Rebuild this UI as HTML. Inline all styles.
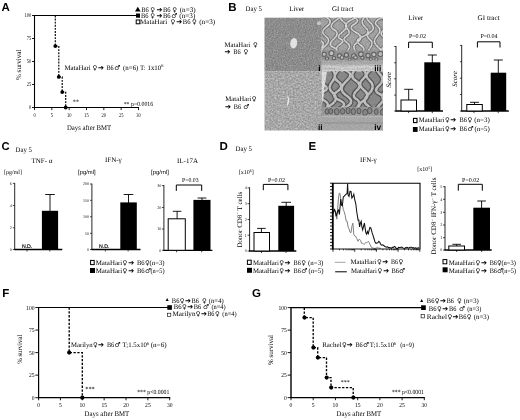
<!DOCTYPE html>
<html><head><meta charset="utf-8"><title>Figure</title>
<style>
html,body{margin:0;padding:0;background:#fff}
svg{display:block}
text{text-rendering:geometricPrecision}
.s{font-family:"Liberation Serif","DejaVu Serif",serif}
.a{font-family:"Liberation Sans","DejaVu Sans",sans-serif}
.y{font-family:"DejaVu Sans",sans-serif}
.w{font-family:"DejaVu Sans",sans-serif}
</style></head><body>
<svg width="520" height="420" viewBox="0 0 520 420">
<rect width="520" height="420" fill="#fff"/>
<text x="1.5" y="10.8" font-size="11.5" class="a" font-weight="bold">A</text>
<line x1="34.5" y1="15.0" x2="34.5" y2="108.1" stroke="#000" stroke-width="1.1"/>
<line x1="33.9" y1="107.5" x2="139.0" y2="107.5" stroke="#000" stroke-width="1.1"/>
<line x1="34.5" y1="15.5" x2="138.5" y2="15.5" stroke="#000" stroke-width="1.1"/>
<line x1="32.0" y1="15.5" x2="34.5" y2="15.5" stroke="#000" stroke-width="0.9"/>
<text x="24.5" y="17.4" font-size="5.8" class="s" textLength="6.8" lengthAdjust="spacingAndGlyphs">100</text>
<line x1="32.0" y1="38.5" x2="34.5" y2="38.5" stroke="#000" stroke-width="0.9"/>
<text x="26.8" y="40.4" font-size="5.8" class="s" textLength="4.5" lengthAdjust="spacingAndGlyphs">75</text>
<line x1="32.0" y1="61.5" x2="34.5" y2="61.5" stroke="#000" stroke-width="0.9"/>
<text x="26.8" y="63.4" font-size="5.8" class="s" textLength="4.5" lengthAdjust="spacingAndGlyphs">50</text>
<line x1="32.0" y1="84.5" x2="34.5" y2="84.5" stroke="#000" stroke-width="0.9"/>
<text x="26.8" y="86.4" font-size="5.8" class="s" textLength="4.5" lengthAdjust="spacingAndGlyphs">25</text>
<line x1="32.0" y1="107.5" x2="34.5" y2="107.5" stroke="#000" stroke-width="0.9"/>
<text x="29.0" y="109.4" font-size="5.8" class="s" textLength="2.3" lengthAdjust="spacingAndGlyphs">0</text>
<line x1="34.5" y1="107.5" x2="34.5" y2="110.1" stroke="#000" stroke-width="0.9"/>
<text x="33.4" y="117" font-size="5.8" class="s" textLength="2.3" lengthAdjust="spacingAndGlyphs">0</text>
<line x1="51.83333333333333" y1="107.5" x2="51.83333333333333" y2="110.1" stroke="#000" stroke-width="0.9"/>
<text x="50.7" y="117" font-size="5.8" class="s" textLength="2.3" lengthAdjust="spacingAndGlyphs">5</text>
<line x1="69.16666666666666" y1="107.5" x2="69.16666666666666" y2="110.1" stroke="#000" stroke-width="0.9"/>
<text x="66.9" y="117" font-size="5.8" class="s" textLength="4.5" lengthAdjust="spacingAndGlyphs">10</text>
<line x1="86.5" y1="107.5" x2="86.5" y2="110.1" stroke="#000" stroke-width="0.9"/>
<text x="84.2" y="117" font-size="5.8" class="s" textLength="4.5" lengthAdjust="spacingAndGlyphs">15</text>
<line x1="103.83333333333333" y1="107.5" x2="103.83333333333333" y2="110.1" stroke="#000" stroke-width="0.9"/>
<text x="101.6" y="117" font-size="5.8" class="s" textLength="4.5" lengthAdjust="spacingAndGlyphs">20</text>
<line x1="121.16666666666667" y1="107.5" x2="121.16666666666667" y2="110.1" stroke="#000" stroke-width="0.9"/>
<text x="118.9" y="117" font-size="5.8" class="s" textLength="4.5" lengthAdjust="spacingAndGlyphs">25</text>
<line x1="138.5" y1="107.5" x2="138.5" y2="110.1" stroke="#000" stroke-width="0.9"/>
<text x="136.2" y="117" font-size="5.8" class="s" textLength="4.5" lengthAdjust="spacingAndGlyphs">30</text>
<path d="M55.3,15.5V46.1H58.8V76.9H62.2V92.1H65.7V107.5" fill="none" stroke="#000" stroke-width="1.15" stroke-dasharray="1.9 1.2"/>
<circle cx="55.3" cy="46.1" r="1.9" fill="#000"/>
<circle cx="58.8" cy="76.9" r="1.9" fill="#000"/>
<circle cx="62.2" cy="92.1" r="1.9" fill="#000"/>
<circle cx="65.7" cy="107.5" r="1.9" fill="#000"/>
<text x="21" y="64.8" font-size="7.2" class="s" text-anchor="middle" transform="rotate(-90 21 64.8)" textLength="30.5" lengthAdjust="spacingAndGlyphs">% survival</text>
<text x="67" y="129.6" font-size="7.2" class="s" textLength="44.2" lengthAdjust="spacingAndGlyphs">Days after BMT</text>
<text x="72.4" y="103.6" font-size="6.8" class="s">**</text>
<text x="123.7" y="105.6" font-size="6.3" class="s" textLength="29.5" lengthAdjust="spacingAndGlyphs">** p=0.0016</text>
<g font-size="6.9" class="s"><text x="64.4" y="69.6" textLength="26.2" lengthAdjust="spacingAndGlyphs">MataHari</text><text x="92.5" y="69.6" class="y" font-size="6.5">♀</text><text x="98" y="69.6" class="w" font-size="7.2">➔</text><text x="106.5" y="69.6" textLength="7.2" lengthAdjust="spacingAndGlyphs">B6</text><text x="114.2" y="69.6" class="y" font-size="6.8">♂</text><text x="123" y="69.6">(n=6) T: 1x10<tspan font-size="4.3" dy="-2.4">6</tspan></text></g>
<path d="M135,11.6L137.8,6.8L140.6,11.6Z" fill="#000" stroke="none" stroke-width="1"/>
<rect x="136" y="13.5" width="4" height="4.2" fill="#000"/>
<rect x="136.2" y="20" width="3.6" height="3.8" fill="#fff" stroke="#000" stroke-width="1"/>
<g font-size="7" class="s"><text x="141.2" y="12.3" textLength="7.5" lengthAdjust="spacingAndGlyphs">B6</text><text x="150.2" y="12.3" class="y" font-size="6.5">♀</text><text x="156.6" y="12.3" class="w" font-size="7.2">➔</text><text x="162.9" y="12.3" textLength="7.6" lengthAdjust="spacingAndGlyphs">B6</text><text x="172.2" y="12.3" class="y" font-size="6.5">♀</text><text x="179.7" y="12.3" textLength="16" lengthAdjust="spacingAndGlyphs">(n=3)</text></g>
<g font-size="7" class="s"><text x="140.9" y="18.2" textLength="7.5" lengthAdjust="spacingAndGlyphs">B6</text><text x="150.2" y="18.2" class="y" font-size="6.5">♀</text><text x="156.6" y="18.2" class="w" font-size="7.2">➔</text><text x="162.9" y="18.2" textLength="7.6" lengthAdjust="spacingAndGlyphs">B6</text><text x="171.2" y="18.2" class="y" font-size="6.8">♂</text><text x="179.3" y="18.2" textLength="16" lengthAdjust="spacingAndGlyphs">(n=3)</text></g>
<g font-size="7" class="s"><text x="140" y="24.1" textLength="27.2" lengthAdjust="spacingAndGlyphs">MataHari</text><text x="170.5" y="24.1" class="y" font-size="6.5">♀</text><text x="176.2" y="24.1" class="w" font-size="7.2">➔</text><text x="182.8" y="24.1" textLength="7.7" lengthAdjust="spacingAndGlyphs">B6</text><text x="192.1" y="24.1" class="y" font-size="6.5">♀</text><text x="199.2" y="24.1" textLength="16" lengthAdjust="spacingAndGlyphs">(n=3)</text></g>
<text x="228.3" y="10.9" font-size="11.5" class="a" font-weight="bold">B</text>
<text x="245.6" y="10.6" font-size="7" class="s" textLength="16.4" lengthAdjust="spacingAndGlyphs">Day 5</text>
<text x="289.2" y="10.8" font-size="7" class="s" textLength="15" lengthAdjust="spacingAndGlyphs">Liver</text>
<text x="332" y="10.8" font-size="7" class="s" textLength="21.4" lengthAdjust="spacingAndGlyphs">GI tract</text>
<g font-size="6.8" class="s"><text x="224.6" y="46.7" textLength="25.7" lengthAdjust="spacingAndGlyphs">MataHari</text><text x="253" y="46.7" class="y" font-size="6.5">♀</text></g>
<g font-size="6.8" class="s"><text x="224.4" y="54.3" class="w" font-size="7.2">➔</text><text x="233.2" y="54.3" textLength="7.4" lengthAdjust="spacingAndGlyphs">B6</text><text x="243.4" y="54.3" class="y" font-size="6.5">♀</text></g>
<g font-size="6.8" class="s"><text x="225.3" y="101.1" textLength="26" lengthAdjust="spacingAndGlyphs">MataHari</text><text x="251.7" y="101.1" class="y" font-size="6.5">♀</text></g>
<g font-size="6.8" class="s"><text x="225.1" y="108.9" class="w" font-size="7.2">➔</text><text x="233.8" y="108.9" textLength="7.3" lengthAdjust="spacingAndGlyphs">B6</text><text x="243.3" y="108.9" class="y" font-size="6.8">♂</text></g>
<defs>
<filter id="n1" x="0" y="0" width="100%" height="100%" color-interpolation-filters="sRGB"><feTurbulence type="fractalNoise" baseFrequency="0.75" numOctaves="2" seed="3"/><feColorMatrix type="matrix" values="0.28 0 0 0 0.41  0.28 0 0 0 0.41  0.28 0 0 0 0.41  0 0 0 0 1"/><feComposite in2="SourceGraphic" operator="in"/></filter>
<filter id="n2" x="0" y="0" width="100%" height="100%" color-interpolation-filters="sRGB"><feTurbulence type="fractalNoise" baseFrequency="0.6" numOctaves="2" seed="11"/><feColorMatrix type="matrix" values="0.36 0 0 0 0.475  0.36 0 0 0 0.475  0.36 0 0 0 0.475  0 0 0 0 1"/><feComposite in2="SourceGraphic" operator="in"/></filter>
<filter id="n3" x="0" y="0" width="100%" height="100%" color-interpolation-filters="sRGB"><feTurbulence type="fractalNoise" baseFrequency="0.7" numOctaves="2" seed="5"/><feColorMatrix type="matrix" values="0 0 0 0 0.3  0 0 0 0 0.3  0 0 0 0 0.3  1.6 0 0 0 -0.55"/><feComposite in2="SourceGraphic" operator="in"/></filter>
<filter id="bl" x="-5%" y="-5%" width="110%" height="110%"><feGaussianBlur stdDeviation="0.45"/></filter>
<clipPath id="c3"><rect x="321.5" y="17.5" width="61.5" height="53.7"/></clipPath>
<clipPath id="c4"><rect x="321.5" y="71.2" width="61.5" height="59.3"/></clipPath>
</defs>
<rect x="264.5" y="17.7" width="57.3" height="53.6" fill="#999" filter="url(#n1)"/>
<ellipse cx="293.7" cy="43.2" rx="3.8" ry="5.6" fill="#e2e2e2" stroke="#858585" stroke-width="0.6" transform="rotate(8 293.7 43.2)"/>
<circle cx="319" cy="23.3" r="2" fill="#c6c6c6"/>
<rect x="264.5" y="71.2" width="58" height="59.3" fill="#aaa" filter="url(#n2)"/>
<path d="M287.5,96.5l1.2,2.5l-0.6,3.5l-0.8,3" stroke="#e8e8e8" stroke-width="1.3" fill="none"/>
<g clip-path="url(#c3)">
<rect x="321.5" y="17.5" width="61.5" height="53.7" fill="#a8a8a8"/>
<g filter="url(#bl)">
<path d="M324.2,15.9Q311.7,20.2 317.5,24.5Q323.2,28.8 318.2,32.3Q313.2,35.8 320.3,40.3Q327.4,44.9 318.1,49.5Q308.7,54.1 316.0,56.8M331.6,7.4Q318.3,13.0 326.1,17.1Q334.0,21.3 326.6,26.7Q319.3,32.0 325.6,36.2Q331.9,40.3 324.9,46.3Q317.8,52.2 325.5,54.0Q333.2,55.8 327.7,61.2M342.1,16.1Q326.2,25.6 333.4,29.2Q340.6,32.8 333.8,39.0Q327.0,45.2 333.6,47.4Q340.2,49.6 334.0,53.9M345.3,6.4Q336.2,17.1 343.2,21.6Q350.2,26.1 342.9,31.6Q335.6,37.0 340.5,39.0Q345.5,41.1 339.3,44.9Q333.1,48.6 340.1,54.6Q347.2,60.6 340.7,64.7M357.7,16.8Q341.7,23.5 346.8,28.2Q351.8,33.0 346.6,36.1Q341.3,39.2 347.0,42.8Q352.6,46.3 346.3,51.8Q340.1,57.3 346.8,62.4M362.1,5.1Q349.0,14.9 354.9,17.9Q360.7,20.8 354.1,24.3Q347.5,27.8 356.1,32.5Q364.7,37.2 357.8,41.8Q351.0,46.3 355.9,51.7Q360.9,57.1 354.1,62.4M368.2,14.7Q358.0,20.8 365.0,26.8Q372.0,32.9 362.6,36.7Q353.3,40.6 360.4,45.0Q367.4,49.5 360.8,54.7M375.1,8.4Q361.9,15.2 369.3,21.7Q376.7,28.1 370.7,31.7Q364.7,35.2 369.5,39.1Q374.3,43.0 370.0,48.1Q365.8,53.1 371.0,56.0Q376.2,58.9 368.6,62.9M384.6,16.6Q371.5,21.5 377.1,25.7Q382.8,30.0 377.0,36.0Q371.3,42.0 378.0,47.0Q384.7,51.9 377.1,56.1Q369.5,60.3 375.8,63.3M392.9,6.1Q378.1,13.8 383.9,19.5Q389.8,25.2 383.9,29.8Q378.1,34.3 385.1,37.6Q392.1,41.0 385.2,45.6Q378.2,50.2 385.8,56.3Q393.4,62.4 385.9,65.9" fill="none" stroke="#757575" stroke-width="3.4" stroke-linejoin="round"/>
<path d="M324.2,15.9Q311.7,20.2 317.5,24.5Q323.2,28.8 318.2,32.3Q313.2,35.8 320.3,40.3Q327.4,44.9 318.1,49.5Q308.7,54.1 316.0,56.8M331.6,7.4Q318.3,13.0 326.1,17.1Q334.0,21.3 326.6,26.7Q319.3,32.0 325.6,36.2Q331.9,40.3 324.9,46.3Q317.8,52.2 325.5,54.0Q333.2,55.8 327.7,61.2M342.1,16.1Q326.2,25.6 333.4,29.2Q340.6,32.8 333.8,39.0Q327.0,45.2 333.6,47.4Q340.2,49.6 334.0,53.9M345.3,6.4Q336.2,17.1 343.2,21.6Q350.2,26.1 342.9,31.6Q335.6,37.0 340.5,39.0Q345.5,41.1 339.3,44.9Q333.1,48.6 340.1,54.6Q347.2,60.6 340.7,64.7M357.7,16.8Q341.7,23.5 346.8,28.2Q351.8,33.0 346.6,36.1Q341.3,39.2 347.0,42.8Q352.6,46.3 346.3,51.8Q340.1,57.3 346.8,62.4M362.1,5.1Q349.0,14.9 354.9,17.9Q360.7,20.8 354.1,24.3Q347.5,27.8 356.1,32.5Q364.7,37.2 357.8,41.8Q351.0,46.3 355.9,51.7Q360.9,57.1 354.1,62.4M368.2,14.7Q358.0,20.8 365.0,26.8Q372.0,32.9 362.6,36.7Q353.3,40.6 360.4,45.0Q367.4,49.5 360.8,54.7M375.1,8.4Q361.9,15.2 369.3,21.7Q376.7,28.1 370.7,31.7Q364.7,35.2 369.5,39.1Q374.3,43.0 370.0,48.1Q365.8,53.1 371.0,56.0Q376.2,58.9 368.6,62.9M384.6,16.6Q371.5,21.5 377.1,25.7Q382.8,30.0 377.0,36.0Q371.3,42.0 378.0,47.0Q384.7,51.9 377.1,56.1Q369.5,60.3 375.8,63.3M392.9,6.1Q378.1,13.8 383.9,19.5Q389.8,25.2 383.9,29.8Q378.1,34.3 385.1,37.6Q392.1,41.0 385.2,45.6Q378.2,50.2 385.8,56.3Q393.4,62.4 385.9,65.9" fill="none" stroke="#dcdcdc" stroke-width="1.6" stroke-linejoin="round"/>
<rect x="321.5" y="50.5" width="61.5" height="10" fill="#9a9a9a"/>
<g fill="#c6c6c6" stroke="#626262" stroke-width="1.1">
<circle cx="324.2" cy="54.3" r="2.1"/>
<circle cx="331.5" cy="53.2" r="2.5"/>
<circle cx="339.6" cy="55.7" r="2.1"/>
<circle cx="346.4" cy="55.0" r="2.1"/>
<circle cx="353.8" cy="55.9" r="2.2"/>
<circle cx="360.9" cy="54.2" r="2.3"/>
<circle cx="368.0" cy="55.5" r="2.1"/>
<circle cx="373.9" cy="54.5" r="2.2"/>
<circle cx="380.4" cy="54.0" r="2.5"/>
<circle cx="327.0" cy="58.6" r="1.6"/>
<circle cx="334.0" cy="58.2" r="1.7"/>
<circle cx="342.0" cy="57.6" r="1.9"/>
<circle cx="349.6" cy="59.4" r="1.4"/>
<circle cx="355.5" cy="57.6" r="1.8"/>
<circle cx="362.5" cy="57.8" r="1.6"/>
<circle cx="370.8" cy="59.1" r="1.5"/>
<circle cx="376.3" cy="59.3" r="1.6"/>
</g>
<rect x="321.5" y="60.5" width="61.5" height="4.5" fill="#b0b0b0"/>
<rect x="321.5" y="64.5" width="61.5" height="7" fill="#c4c4c4"/>
<path d="M321.5,66q8,-1.2 15,0t15,0.3t15,-0.5t17,0.5v2q-9,1 -17,0t-15,0.6t-15,-0.4t-15,0.3z" fill="#d6d6d6"/>
<rect x="321.5" y="69.6" width="61.5" height="1.8" fill="#d8d8d8"/>
</g>
<rect x="321.5" y="17.5" width="61.5" height="53.7" fill="#000" filter="url(#n3)" opacity="0.3"/>
</g>
<g clip-path="url(#c4)">
<rect x="321.5" y="71.2" width="61.5" height="59.3" fill="#8c8c8c"/>
<g filter="url(#bl)">
<path d="M330.5,62.4Q314.9,78.5 323.0,83.9Q331.0,89.2 322.2,92.0Q313.4,94.8 322.8,99.6Q332.2,104.5 324.2,109.9Q316.1,115.3 322.1,119.7M337.1,52.5Q325.6,61.4 331.7,68.4Q337.8,75.5 332.2,81.8Q326.6,88.0 333.3,93.5Q339.9,98.9 330.1,105.5Q320.3,112.1 329.6,116.6Q338.8,121.2 331.7,126.3M343.2,66.5Q329.9,75.8 337.5,81.0Q345.1,86.3 337.5,91.2Q330.0,96.1 339.2,100.1Q348.4,104.2 340.2,108.5Q332.0,112.9 338.5,116.7Q344.9,120.6 337.9,124.1M352.8,54.4Q339.0,68.0 346.7,71.0Q354.3,74.1 345.8,81.7Q337.3,89.4 346.4,95.6Q355.4,101.8 347.3,106.2Q339.2,110.5 347.7,116.7M362.4,62.3Q347.0,75.0 355.0,80.0Q363.0,85.0 356.9,90.4Q350.8,95.8 356.7,99.3Q362.6,102.8 355.1,109.2Q347.5,115.6 354.2,123.3M369.2,55.2Q354.8,63.9 362.0,68.8Q369.1,73.7 362.9,79.1Q356.8,84.4 364.1,90.2Q371.4,95.9 363.3,100.8Q355.2,105.6 362.3,114.0Q369.4,122.4 362.8,126.5M375.7,67.0Q361.6,73.8 369.1,80.2Q376.5,86.6 368.8,93.9Q361.2,101.2 367.5,105.3Q373.8,109.5 368.5,114.2Q363.2,118.9 370.8,124.8M384.6,55.3Q371.8,66.3 378.8,72.9Q385.8,79.6 379.2,85.3Q372.5,91.0 380.0,94.2Q387.5,97.4 379.9,104.5Q372.4,111.6 380.1,117.7M394.4,62.4Q379.8,77.2 385.9,80.5Q392.1,83.9 385.6,90.6Q379.2,97.4 385.9,102.8Q392.6,108.1 385.6,113.2Q378.6,118.2 387.2,122.8" fill="none" stroke="#555" stroke-width="4.8" stroke-linejoin="round"/>
<path d="M330.5,62.4Q314.9,78.5 323.0,83.9Q331.0,89.2 322.2,92.0Q313.4,94.8 322.8,99.6Q332.2,104.5 324.2,109.9Q316.1,115.3 322.1,119.7M337.1,52.5Q325.6,61.4 331.7,68.4Q337.8,75.5 332.2,81.8Q326.6,88.0 333.3,93.5Q339.9,98.9 330.1,105.5Q320.3,112.1 329.6,116.6Q338.8,121.2 331.7,126.3M343.2,66.5Q329.9,75.8 337.5,81.0Q345.1,86.3 337.5,91.2Q330.0,96.1 339.2,100.1Q348.4,104.2 340.2,108.5Q332.0,112.9 338.5,116.7Q344.9,120.6 337.9,124.1M352.8,54.4Q339.0,68.0 346.7,71.0Q354.3,74.1 345.8,81.7Q337.3,89.4 346.4,95.6Q355.4,101.8 347.3,106.2Q339.2,110.5 347.7,116.7M362.4,62.3Q347.0,75.0 355.0,80.0Q363.0,85.0 356.9,90.4Q350.8,95.8 356.7,99.3Q362.6,102.8 355.1,109.2Q347.5,115.6 354.2,123.3M369.2,55.2Q354.8,63.9 362.0,68.8Q369.1,73.7 362.9,79.1Q356.8,84.4 364.1,90.2Q371.4,95.9 363.3,100.8Q355.2,105.6 362.3,114.0Q369.4,122.4 362.8,126.5M375.7,67.0Q361.6,73.8 369.1,80.2Q376.5,86.6 368.8,93.9Q361.2,101.2 367.5,105.3Q373.8,109.5 368.5,114.2Q363.2,118.9 370.8,124.8M384.6,55.3Q371.8,66.3 378.8,72.9Q385.8,79.6 379.2,85.3Q372.5,91.0 380.0,94.2Q387.5,97.4 379.9,104.5Q372.4,111.6 380.1,117.7M394.4,62.4Q379.8,77.2 385.9,80.5Q392.1,83.9 385.6,90.6Q379.2,97.4 385.9,102.8Q392.6,108.1 385.6,113.2Q378.6,118.2 387.2,122.8" fill="none" stroke="#c6c6c6" stroke-width="2.4" stroke-linejoin="round"/>
<rect x="321.5" y="107" width="61.5" height="9" fill="#9c9c9c"/>
<g fill="#8a8a8a" stroke="#5a5a5a" stroke-width="1">
<ellipse cx="327.0" cy="111.4" rx="1.9" ry="2.6"/>
<ellipse cx="330.8" cy="111.2" rx="1.9" ry="2.7"/>
<ellipse cx="336.7" cy="111.6" rx="2.4" ry="3.0"/>
<ellipse cx="342.6" cy="111.3" rx="2.2" ry="2.8"/>
<ellipse cx="348.1" cy="110.6" rx="2.0" ry="3.2"/>
<ellipse cx="353.3" cy="111.5" rx="2.2" ry="3.1"/>
<ellipse cx="359.0" cy="111.0" rx="2.0" ry="2.8"/>
<ellipse cx="365.1" cy="112.4" rx="2.4" ry="3.1"/>
<ellipse cx="369.8" cy="110.6" rx="2.3" ry="3.1"/>
<ellipse cx="376.3" cy="111.7" rx="1.8" ry="2.8"/>
<ellipse cx="382.9" cy="112.2" rx="2.4" ry="3.2"/>
</g>
<rect x="321.5" y="116" width="61.5" height="15" fill="#adadad"/>
<rect x="321.5" y="115.6" width="61.5" height="1.5" fill="#bdbdbd"/>
<rect x="321.5" y="122" width="61.5" height="2" fill="#a0a0a0"/>
<path d="M321.5,71.2h5.5l-2.2,14l-1.5,14l-1.8,6z" fill="#e4e4e4"/>
</g>
<rect x="321.5" y="71.2" width="61.5" height="59.3" fill="#000" filter="url(#n3)" opacity="0.25"/>
</g>
<text x="318.2" y="70.6" font-size="8.4" class="a" font-weight="bold">i</text>
<text x="374.3" y="70.6" font-size="8.4" class="a" font-weight="bold">iii</text>
<text x="318" y="130.2" font-size="8.4" class="a" font-weight="bold">ii</text>
<text x="374.2" y="130.2" font-size="8.4" class="a" font-weight="bold">iv</text>
<text x="408.2" y="19.9" font-size="7" class="s" textLength="15" lengthAdjust="spacingAndGlyphs">Liver</text>
<text x="417.5" y="38" font-size="6" class="s" text-anchor="middle">P=0.02</text>
<path d="M408.6,48V42.2H432.3V48" fill="none" stroke="#000" stroke-width="1"/>
<line x1="396" y1="46" x2="396" y2="111.5" stroke="#000" stroke-width="0.85"/>
<line x1="395.6" y1="111" x2="443" y2="111" stroke="#000" stroke-width="1.3"/>
<line x1="394.2" y1="46.5" x2="396" y2="46.5" stroke="#000" stroke-width="0.7"/>
<line x1="394.2" y1="62.8" x2="396" y2="62.8" stroke="#000" stroke-width="0.7"/>
<line x1="394.2" y1="78.8" x2="396" y2="78.8" stroke="#000" stroke-width="0.7"/>
<line x1="394.2" y1="95.1" x2="396" y2="95.1" stroke="#000" stroke-width="0.7"/>
<line x1="394.2" y1="111" x2="396" y2="111" stroke="#000" stroke-width="0.7"/>
<line x1="408.7" y1="89.3" x2="408.7" y2="100" stroke="#000" stroke-width="0.9"/>
<line x1="404.2" y1="89.3" x2="413.2" y2="89.3" stroke="#000" stroke-width="0.9"/>
<rect x="401" y="100" width="15.5" height="11" fill="#fff" stroke="#000" stroke-width="1"/>
<line x1="432.3" y1="55" x2="432.3" y2="63" stroke="#000" stroke-width="0.9"/>
<line x1="427.8" y1="55" x2="436.8" y2="55" stroke="#000" stroke-width="0.9"/>
<rect x="424.3" y="62.3" width="16" height="48.7" fill="#000"/>
<text x="391" y="79.6" font-size="6.8" class="s" text-anchor="middle" transform="rotate(-90 391 79.6)" textLength="15.7" lengthAdjust="spacingAndGlyphs" font-style="italic">Score</text>
<text x="477.5" y="19.9" font-size="7" class="s" textLength="22.2" lengthAdjust="spacingAndGlyphs">GI tract</text>
<text x="489" y="38" font-size="6" class="s" text-anchor="middle">P=0.04</text>
<path d="M477.4,47.5V41.8H500V47.5" fill="none" stroke="#000" stroke-width="1"/>
<line x1="461.7" y1="45" x2="461.7" y2="111.5" stroke="#000" stroke-width="0.85"/>
<line x1="461.3" y1="111" x2="508.8" y2="111" stroke="#000" stroke-width="1.3"/>
<line x1="459.9" y1="45.4" x2="461.7" y2="45.4" stroke="#000" stroke-width="0.7"/>
<line x1="459.9" y1="61.7" x2="461.7" y2="61.7" stroke="#000" stroke-width="0.7"/>
<line x1="459.9" y1="78.2" x2="461.7" y2="78.2" stroke="#000" stroke-width="0.7"/>
<line x1="459.9" y1="94.5" x2="461.7" y2="94.5" stroke="#000" stroke-width="0.7"/>
<line x1="459.9" y1="111" x2="461.7" y2="111" stroke="#000" stroke-width="0.7"/>
<line x1="474.5" y1="102.3" x2="474.5" y2="104.5" stroke="#000" stroke-width="0.9"/>
<line x1="470.0" y1="102.3" x2="479.0" y2="102.3" stroke="#000" stroke-width="0.9"/>
<rect x="466.8" y="104.5" width="15.5" height="6.5" fill="#fff" stroke="#000" stroke-width="1"/>
<line x1="498.3" y1="60" x2="498.3" y2="73" stroke="#000" stroke-width="0.9"/>
<line x1="493.8" y1="60" x2="502.8" y2="60" stroke="#000" stroke-width="0.9"/>
<rect x="490.7" y="72.7" width="15.5" height="38.3" fill="#000"/>
<text x="456.6" y="79" font-size="6.8" class="s" text-anchor="middle" transform="rotate(-90 456.6 79)" textLength="15.4" lengthAdjust="spacingAndGlyphs" font-style="italic">Score</text>
<rect x="413.5" y="118.4" width="3.5" height="4.2" fill="#fff" stroke="#000" stroke-width="1.1"/>
<rect x="412.9" y="127" width="4.7" height="4.9" fill="#000"/>
<g font-size="6.8" class="s"><text x="418.8" y="122" textLength="25.6" lengthAdjust="spacingAndGlyphs">MataHari</text><text x="445" y="122" class="y" font-size="6.5">♀</text><text x="450.2" y="122" class="w" font-size="7.2">➔</text><text x="459.5" y="122" textLength="7.4" lengthAdjust="spacingAndGlyphs">B6</text><text x="467.5" y="122" class="y" font-size="6.5">♀</text><text x="474.2" y="122" textLength="15.6" lengthAdjust="spacingAndGlyphs">(n=3)</text></g>
<g font-size="6.8" class="s"><text x="418.8" y="131" textLength="25.6" lengthAdjust="spacingAndGlyphs">MataHari</text><text x="445" y="131" class="y" font-size="6.5">♀</text><text x="450.2" y="131" class="w" font-size="7.2">➔</text><text x="459.5" y="131" textLength="7.4" lengthAdjust="spacingAndGlyphs">B6</text><text x="467.4" y="131" class="y" font-size="6.8">♂</text><text x="474.6" y="131" textLength="15.2" lengthAdjust="spacingAndGlyphs">(n=5)</text></g>
<text x="1.5" y="150.4" font-size="11.3" class="a" font-weight="bold">C</text>
<text x="15.6" y="151.7" font-size="7" class="s" textLength="16.3" lengthAdjust="spacingAndGlyphs">Day 5</text>
<text x="42" y="163" font-size="7" class="s" text-anchor="middle">TNF- α</text>
<text x="113.3" y="162" font-size="7" class="s" text-anchor="middle">IFN-γ</text>
<text x="187.5" y="162.6" font-size="7" class="s" text-anchor="middle">IL-17A</text>
<text x="4.1" y="174" font-size="6" class="s" textLength="17.8" lengthAdjust="spacingAndGlyphs">[pg/ml]</text>
<text x="78.1" y="174.4" font-size="5.8" class="a" textLength="17.5" lengthAdjust="spacingAndGlyphs">[pg/ml]</text>
<text x="151.1" y="174.2" font-size="5.8" class="a" textLength="17.8" lengthAdjust="spacingAndGlyphs">[pg/ml]</text>
<line x1="14.7" y1="183" x2="14.7" y2="250" stroke="#000" stroke-width="0.85"/>
<line x1="14.3" y1="249.5" x2="62.3" y2="249.5" stroke="#000" stroke-width="1.3"/>
<line x1="12.8" y1="183.3" x2="14.7" y2="183.3" stroke="#000" stroke-width="0.7"/>
<line x1="12.8" y1="205.5" x2="14.7" y2="205.5" stroke="#000" stroke-width="0.7"/>
<line x1="12.8" y1="227.8" x2="14.7" y2="227.8" stroke="#000" stroke-width="0.7"/>
<line x1="12.8" y1="249.5" x2="14.7" y2="249.5" stroke="#000" stroke-width="0.7"/>
<line x1="27" y1="249.5" x2="27" y2="251.5" stroke="#000" stroke-width="0.7"/>
<line x1="49.8" y1="249.5" x2="49.8" y2="251.5" stroke="#000" stroke-width="0.7"/>
<line x1="408.6" y1="111" x2="408.6" y2="113.2" stroke="#000" stroke-width="0.7"/>
<line x1="432.3" y1="111" x2="432.3" y2="113.2" stroke="#000" stroke-width="0.7"/>
<line x1="474" y1="111" x2="474" y2="113.2" stroke="#000" stroke-width="0.7"/>
<line x1="498.2" y1="111" x2="498.2" y2="113.2" stroke="#000" stroke-width="0.7"/>
<line x1="50" y1="194.5" x2="50" y2="211" stroke="#000" stroke-width="0.9"/>
<line x1="45.2" y1="194.5" x2="54.8" y2="194.5" stroke="#000" stroke-width="0.9"/>
<rect x="41.9" y="210.8" width="16.2" height="38.7" fill="#000"/>
<text x="21.9" y="247.5" font-size="5.2" class="a" stroke="#000" stroke-width="0.15">N.D.</text>
<text x="11.8" y="184.60000000000002" font-size="4" class="s" text-anchor="end">6</text>
<text x="11.8" y="206.8" font-size="4" class="s" text-anchor="end">4</text>
<text x="11.8" y="229.10000000000002" font-size="4" class="s" text-anchor="end">2</text>
<text x="11.8" y="250.8" font-size="4" class="s" text-anchor="end">0</text>
<line x1="91.9" y1="183.7" x2="91.9" y2="250" stroke="#000" stroke-width="0.85"/>
<line x1="91.5" y1="249.5" x2="140.5" y2="249.5" stroke="#000" stroke-width="1.3"/>
<line x1="90" y1="184" x2="91.9" y2="184" stroke="#000" stroke-width="0.7"/>
<line x1="90" y1="200.3" x2="91.9" y2="200.3" stroke="#000" stroke-width="0.7"/>
<line x1="90" y1="216.8" x2="91.9" y2="216.8" stroke="#000" stroke-width="0.7"/>
<line x1="90" y1="233.3" x2="91.9" y2="233.3" stroke="#000" stroke-width="0.7"/>
<line x1="90" y1="249.5" x2="91.9" y2="249.5" stroke="#000" stroke-width="0.7"/>
<line x1="105.4" y1="249.5" x2="105.4" y2="251.5" stroke="#000" stroke-width="0.7"/>
<line x1="128.1" y1="249.5" x2="128.1" y2="251.5" stroke="#000" stroke-width="0.7"/>
<line x1="128.5" y1="194.5" x2="128.5" y2="203" stroke="#000" stroke-width="0.9"/>
<line x1="123.7" y1="194.5" x2="133.3" y2="194.5" stroke="#000" stroke-width="0.9"/>
<rect x="120.3" y="202.4" width="16.5" height="47.1" fill="#000"/>
<text x="99" y="247.5" font-size="5.2" class="a" stroke="#000" stroke-width="0.15">N.D.</text>
<text x="89" y="185.3" font-size="4" class="s" text-anchor="end">200</text>
<text x="89" y="201.60000000000002" font-size="4" class="s" text-anchor="end">150</text>
<text x="89" y="218.10000000000002" font-size="4" class="s" text-anchor="end">100</text>
<text x="89" y="234.60000000000002" font-size="4" class="s" text-anchor="end">50</text>
<text x="89" y="250.8" font-size="4" class="s" text-anchor="end">0</text>
<line x1="163.9" y1="185.1" x2="163.9" y2="250.8" stroke="#000" stroke-width="0.85"/>
<line x1="163.5" y1="250.3" x2="212.4" y2="250.3" stroke="#000" stroke-width="1.3"/>
<line x1="161.9" y1="185.6" x2="163.9" y2="185.6" stroke="#000" stroke-width="0.7"/>
<line x1="161.9" y1="207.5" x2="163.9" y2="207.5" stroke="#000" stroke-width="0.7"/>
<line x1="161.9" y1="229" x2="163.9" y2="229" stroke="#000" stroke-width="0.7"/>
<line x1="161.9" y1="250.3" x2="163.9" y2="250.3" stroke="#000" stroke-width="0.7"/>
<line x1="176.6" y1="250.3" x2="176.6" y2="252.3" stroke="#000" stroke-width="0.7"/>
<line x1="201.7" y1="250.3" x2="201.7" y2="252.3" stroke="#000" stroke-width="0.7"/>
<line x1="177.1" y1="211.3" x2="177.1" y2="219" stroke="#000" stroke-width="0.9"/>
<line x1="172.79999999999998" y1="211.3" x2="181.4" y2="211.3" stroke="#000" stroke-width="0.9"/>
<rect x="168.2" y="218.8" width="17.1" height="31.5" fill="#fff" stroke="#000" stroke-width="1"/>
<line x1="202" y1="198" x2="202" y2="201" stroke="#000" stroke-width="0.9"/>
<line x1="197.6" y1="198" x2="206.4" y2="198" stroke="#000" stroke-width="0.9"/>
<rect x="193.4" y="199.9" width="17.1" height="50.4" fill="#000"/>
<path d="M176.3,190.9V185H201.7V190.9" fill="none" stroke="#000" stroke-width="1"/>
<text x="190.3" y="182.3" font-size="6" class="s" text-anchor="middle" textLength="16.5" lengthAdjust="spacingAndGlyphs">P=0.03</text>
<text x="161.2" y="186.9" font-size="4" class="s" text-anchor="end">30</text>
<text x="161.2" y="208.8" font-size="4" class="s" text-anchor="end">20</text>
<text x="161.2" y="230.3" font-size="4" class="s" text-anchor="end">10</text>
<text x="161.2" y="251.60000000000002" font-size="4" class="s" text-anchor="end">0</text>
<rect x="90.6" y="260.4" width="3.6" height="4.2" fill="#fff" stroke="#000" stroke-width="1"/>
<rect x="90" y="268" width="5" height="5" fill="#000"/>
<g font-size="6.8" class="s"><text x="95.7" y="264.9" textLength="26.5" lengthAdjust="spacingAndGlyphs">MataHari</text><text x="122.6" y="264.9" class="y" font-size="6.5">♀</text><text x="128.2" y="264.9" class="w" font-size="7.2">➔</text><text x="136.9" y="264.9" textLength="7.8" lengthAdjust="spacingAndGlyphs">B6</text><text x="145.1" y="264.9" class="y" font-size="6.5">♀</text><text x="149.5" y="264.9" textLength="15.1" lengthAdjust="spacingAndGlyphs">(n=3)</text></g>
<g font-size="6.8" class="s"><text x="95.7" y="272.9" textLength="26.5" lengthAdjust="spacingAndGlyphs">MataHari</text><text x="122.6" y="272.9" class="y" font-size="6.5">♀</text><text x="128.2" y="272.9" class="w" font-size="7.2">➔</text><text x="136.9" y="272.9" textLength="7.8" lengthAdjust="spacingAndGlyphs">B6</text><text x="145" y="272.9" class="y" font-size="6.8">♂</text><text x="150.4" y="272.9" textLength="14.2" lengthAdjust="spacingAndGlyphs">(n=5)</text></g>
<text x="219.4" y="150.4" font-size="11.5" class="a" font-weight="bold">D</text>
<text x="235.5" y="151.2" font-size="7" class="s" textLength="16.4" lengthAdjust="spacingAndGlyphs">Day 5</text>
<text x="238.7" y="174" font-size="6.1" class="s">[x10<tspan font-size="4" dy="-2.2">6</tspan><tspan dy="2.2">]</tspan></text>
<line x1="249.6" y1="187.4" x2="249.6" y2="251.5" stroke="#000" stroke-width="0.85"/>
<line x1="249.2" y1="251" x2="296.3" y2="251" stroke="#000" stroke-width="1.3"/>
<line x1="247.6" y1="187.9" x2="249.6" y2="187.9" stroke="#000" stroke-width="0.7"/>
<line x1="247.6" y1="203.7" x2="249.6" y2="203.7" stroke="#000" stroke-width="0.7"/>
<line x1="247.6" y1="219.5" x2="249.6" y2="219.5" stroke="#000" stroke-width="0.7"/>
<line x1="247.6" y1="235.2" x2="249.6" y2="235.2" stroke="#000" stroke-width="0.7"/>
<line x1="247.6" y1="251" x2="249.6" y2="251" stroke="#000" stroke-width="0.7"/>
<line x1="261.5" y1="251" x2="261.5" y2="253" stroke="#000" stroke-width="0.7"/>
<line x1="286" y1="251" x2="286" y2="253" stroke="#000" stroke-width="0.7"/>
<line x1="261.4" y1="228.4" x2="261.4" y2="233" stroke="#000" stroke-width="0.9"/>
<line x1="257.09999999999997" y1="228.4" x2="265.7" y2="228.4" stroke="#000" stroke-width="0.9"/>
<rect x="254" y="232.5" width="15.5" height="18.5" fill="#fff" stroke="#000" stroke-width="1"/>
<line x1="286.2" y1="202.3" x2="286.2" y2="206" stroke="#000" stroke-width="0.9"/>
<line x1="281.4" y1="202.3" x2="291.0" y2="202.3" stroke="#000" stroke-width="0.9"/>
<rect x="278.3" y="205.8" width="15.8" height="45.2" fill="#000"/>
<path d="M263.3,190.2V184.4H287.9V190.2" fill="none" stroke="#000" stroke-width="1"/>
<text x="276.5" y="181.7" font-size="6" class="s" text-anchor="middle">P=0.02</text>
<text x="241.8" y="219.6" font-size="7" class="s" text-anchor="middle" transform="rotate(-90 241.8 219.6)">Donor CD8<tspan font-size="4.5" dy="-2.5">+</tspan><tspan dy="2.5"> T cells</tspan></text>
<text x="246.8" y="189.20000000000002" font-size="4" class="s" text-anchor="end">4</text>
<text x="246.8" y="205.0" font-size="4" class="s" text-anchor="end">3</text>
<text x="246.8" y="220.8" font-size="4" class="s" text-anchor="end">2</text>
<text x="246.8" y="236.5" font-size="4" class="s" text-anchor="end">1</text>
<text x="246.8" y="252.3" font-size="4" class="s" text-anchor="end">0</text>
<rect x="247.4" y="260.2" width="3.8" height="4.2" fill="#fff" stroke="#000" stroke-width="1"/>
<rect x="247" y="267.8" width="5" height="5" fill="#000"/>
<g font-size="6.8" class="s"><text x="253" y="265" textLength="25.9" lengthAdjust="spacingAndGlyphs">MataHari</text><text x="279.3" y="265" class="y" font-size="6.5">♀</text><text x="284.5" y="265" class="w" font-size="7.2">➔</text><text x="293.6" y="265" textLength="7.3" lengthAdjust="spacingAndGlyphs">B6</text><text x="301.3" y="265" class="y" font-size="6.5">♀</text><text x="308" y="265" textLength="15.4" lengthAdjust="spacingAndGlyphs">(n=3)</text></g>
<g font-size="6.8" class="s"><text x="253" y="273.2" textLength="25.9" lengthAdjust="spacingAndGlyphs">MataHari</text><text x="279.3" y="273.2" class="y" font-size="6.5">♀</text><text x="284.5" y="273.2" class="w" font-size="7.2">➔</text><text x="293.6" y="273.2" textLength="7.3" lengthAdjust="spacingAndGlyphs">B6</text><text x="301.2" y="273.2" class="y" font-size="6.8">♂</text><text x="308.4" y="273.2" textLength="15" lengthAdjust="spacingAndGlyphs">(n=5)</text></g>
<text x="308.4" y="150.4" font-size="11.5" class="a" font-weight="bold">E</text>
<text x="368.3" y="162" font-size="7" class="s" text-anchor="middle">IFN-γ</text>
<path d="M333.1,210.6 333.9,209.7 334.7,209.7 335.6,213.5 336.9,219.2 337.7,207.9 338.5,198.1 339.2,193.3 340.0,193.3 341.3,203.8 342.3,203.7 343.3,209.6 344.2,211.8 345.2,215.4 346.2,221.2 347.1,221.2 348.1,226.9 349.0,228.8 350.0,232.1 351.0,232.7 351.9,226.3 352.9,223.1 353.8,234.6 354.8,236.0 355.8,236.4 356.7,238.5 358.1,241.3 358.8,239.5 359.6,239.4 360.6,240.4 361.5,243.3 362.5,243.2 363.5,244.2 364.2,244.4 365.0,243.6 365.8,242.3 366.6,242.7 367.4,242.4 368.3,241.3 369.2,242.6 370.2,244.9 371.2,247.1 372.1,247.6 373.1,248.1 374.0,248.3 375.0,248.4 376.0,248.2 376.9,247.7 377.7,247.4 378.5,248.0 379.2,248.2 380.0,248.2 380.8,248.3" fill="none" stroke="#808080" stroke-width="1" stroke-linejoin="miter"/>
<path d="M333.1,213.5 333.8,211.2 334.6,209.6 335.4,212.0 336.2,216.3 337.5,211.5 338.5,210.1 339.4,214.4 340.8,199.0 341.5,205.3 342.3,205.8 343.3,197.0 344.2,196.2 345.2,195.2 346.2,194.2 347.1,193.3 347.6,183.5 348.1,195.2 349.0,196.5 350.0,191.3 351.0,191.4 351.9,198.1 352.9,196.6 353.8,194.2 354.8,200.0 355.8,203.8 356.7,211.5 358.1,220.2 358.8,220.1 359.6,226.9 360.4,223.1 361.2,221.2 361.9,226.9 362.7,229.8 363.6,226.1 364.4,223.1 365.8,232.7 366.6,234.2 367.4,231.6 368.3,233.7 369.1,230.3 369.9,227.5 370.8,227.9 372.1,232.7 373.1,235.6 374.0,238.5 375.0,242.1 376.0,243.3 376.9,242.9 377.9,242.7 378.8,241.3 379.8,242.3 380.8,244.4 381.7,245.2 382.7,244.8 383.7,245.5 384.6,246.2 385.4,246.7 386.2,247.1 386.9,247.0 387.7,246.9 388.5,247.7 389.4,247.6 390.4,247.8 391.3,248.3 392.3,247.4 393.3,247.5 394.2,246.5 395.2,247.0 396.2,248.3 397.0,248.4 397.8,248.4 398.6,247.3 399.4,247.5 400.2,247.5 401.0,247.3 401.9,247.1 402.9,247.9 403.8,248.3 404.7,248.4 405.5,247.6 406.3,248.0 407.1,247.4 408.0,247.8 408.8,248.1 409.6,247.5 410.4,247.3 411.2,247.2 412.0,247.4 412.8,248.1 413.6,247.6 414.4,248.3 415.2,247.8 416.0,248.1 416.8,248.4 417.6,247.9 418.4,247.8 419.2,247.9" fill="none" stroke="#111" stroke-width="1.05" stroke-linejoin="miter"/>
<path d="M332.9,249.3V183.3H420V249.3" fill="none" stroke="#000" stroke-width="1.1"/>
<path d="M332.5,249H419.8" fill="none" stroke="#000" stroke-width="0.9"/>
<rect x="331.9" y="183" width="1.6" height="66.4" fill="#000"/>
<path d="M330,183.2h2.5M330,186.5h2.5M330,189.8h2.5M330,193.1h2.5M330,196.4h2.5M330,199.6h2.5M330,202.9h2.5M330,206.2h2.5M330,209.5h2.5M330,212.8h2.5M330,216.1h2.5M330,219.4h2.5M330,222.7h2.5M330,226.0h2.5M330,229.3h2.5M330,232.5h2.5M330,235.8h2.5M330,239.1h2.5M330,242.4h2.5M330,245.7h2.5M330,249.0h2.5" stroke="#000" stroke-width="0.9" fill="none"/>
<path d="M333.0,249v2.8M339.5,249v1.3M343.4,249v1.3M346.1,249v1.3M348.2,249v1.3M349.9,249v1.3M351.3,249v1.3M352.6,249v1.3M353.7,249v1.3M354.7,249v2.8M361.2,249v1.3M365.1,249v1.3M367.8,249v1.3M369.9,249v1.3M371.6,249v1.3M373.0,249v1.3M374.3,249v1.3M375.4,249v1.3M376.4,249v2.8M382.9,249v1.3M386.8,249v1.3M389.5,249v1.3M391.6,249v1.3M393.3,249v1.3M394.7,249v1.3M396.0,249v1.3M397.1,249v1.3M398.1,249v2.8M404.6,249v1.3M408.5,249v1.3M411.2,249v1.3M413.3,249v1.3M415.0,249v1.3M416.4,249v1.3M417.7,249v1.3M418.8,249v1.3M419.8,249v2.8" stroke="#000" stroke-width="0.8" fill="none"/>
<line x1="334.8" y1="262.3" x2="345.6" y2="262.3" stroke="#999" stroke-width="0.9"/>
<line x1="335.2" y1="271.8" x2="346.8" y2="271.8" stroke="#000" stroke-width="1"/>
<g font-size="6.8" class="s"><text x="350.4" y="263.8" textLength="26" lengthAdjust="spacingAndGlyphs">MataHari</text><text x="376.9" y="263.8" class="y" font-size="6.5">♀</text><text x="382.3" y="263.8" class="w" font-size="7.2">➔</text><text x="390.9" y="263.8" textLength="7.1" lengthAdjust="spacingAndGlyphs">B6</text><text x="398.6" y="263.8" class="y" font-size="6.5">♀</text></g>
<g font-size="6.8" class="s"><text x="351.1" y="273.2" textLength="25.9" lengthAdjust="spacingAndGlyphs">MataHari</text><text x="377.4" y="273.2" class="y" font-size="6.5">♀</text><text x="383.2" y="273.2" class="w" font-size="7.2">➔</text><text x="391.4" y="273.2" textLength="7.5" lengthAdjust="spacingAndGlyphs">B6</text><text x="399" y="273.2" class="y" font-size="6.8">♂</text></g>
<text x="417.2" y="170.7" font-size="6.1" class="s">[x10<tspan font-size="4" dy="-2.2">5</tspan><tspan dy="2.2">]</tspan></text>
<line x1="445" y1="186.2" x2="445" y2="250.5" stroke="#000" stroke-width="0.85"/>
<line x1="444.6" y1="250" x2="491.7" y2="250" stroke="#000" stroke-width="1.3"/>
<line x1="443" y1="186.7" x2="445" y2="186.7" stroke="#000" stroke-width="0.7"/>
<line x1="443" y1="199.3" x2="445" y2="199.3" stroke="#000" stroke-width="0.7"/>
<line x1="443" y1="212.3" x2="445" y2="212.3" stroke="#000" stroke-width="0.7"/>
<line x1="443" y1="225" x2="445" y2="225" stroke="#000" stroke-width="0.7"/>
<line x1="443" y1="237.7" x2="445" y2="237.7" stroke="#000" stroke-width="0.7"/>
<line x1="443" y1="250" x2="445" y2="250" stroke="#000" stroke-width="0.7"/>
<line x1="456.7" y1="250" x2="456.7" y2="252" stroke="#000" stroke-width="0.7"/>
<line x1="481.7" y1="250" x2="481.7" y2="252" stroke="#000" stroke-width="0.7"/>
<line x1="456.7" y1="244.3" x2="456.7" y2="246" stroke="#000" stroke-width="0.9"/>
<line x1="452.4" y1="244.3" x2="461.0" y2="244.3" stroke="#000" stroke-width="0.9"/>
<rect x="448.8" y="246" width="15.7" height="4" fill="#fff" stroke="#000" stroke-width="1"/>
<line x1="481.6" y1="201" x2="481.6" y2="208" stroke="#000" stroke-width="0.9"/>
<line x1="477.3" y1="201" x2="485.90000000000003" y2="201" stroke="#000" stroke-width="0.9"/>
<rect x="473.3" y="207.7" width="16.7" height="42.3" fill="#000"/>
<path d="M458.3,190.7V184.3H482.3V190.7" fill="none" stroke="#000" stroke-width="1"/>
<text x="470.7" y="182.3" font-size="6" class="s" text-anchor="middle">P=0.02</text>
<text x="436.1" y="216" font-size="7" class="s" text-anchor="middle" transform="rotate(-90 436.1 216)">Donor CD8<tspan font-size="4.5" dy="-2.5">+</tspan><tspan dy="2.5"> IFN-γ</tspan><tspan font-size="4.5" dy="-2.5">+</tspan><tspan dy="2.5">  T cells</tspan></text>
<text x="442.2" y="188.0" font-size="4" class="s" text-anchor="end">5</text>
<text x="442.2" y="200.60000000000002" font-size="4" class="s" text-anchor="end">4</text>
<text x="442.2" y="213.60000000000002" font-size="4" class="s" text-anchor="end">3</text>
<text x="442.2" y="226.3" font-size="4" class="s" text-anchor="end">2</text>
<text x="442.2" y="239.0" font-size="4" class="s" text-anchor="end">1</text>
<text x="442.2" y="251.3" font-size="4" class="s" text-anchor="end">0</text>
<rect x="443" y="259.6" width="3.8" height="4.2" fill="#fff" stroke="#000" stroke-width="1"/>
<rect x="442.6" y="267.3" width="5" height="5" fill="#000"/>
<g font-size="6.8" class="s"><text x="448.7" y="264.5" textLength="26.3" lengthAdjust="spacingAndGlyphs">MataHari</text><text x="475.4" y="264.5" class="y" font-size="6.5">♀</text><text x="480.9" y="264.5" class="w" font-size="7.2">➔</text><text x="489.7" y="264.5" textLength="7.3" lengthAdjust="spacingAndGlyphs">B6</text><text x="497" y="264.5" class="y" font-size="6.5">♀</text><text x="501.4" y="264.5" textLength="14.6" lengthAdjust="spacingAndGlyphs">(n=3)</text></g>
<g font-size="6.8" class="s"><text x="448.7" y="272.8" textLength="26.3" lengthAdjust="spacingAndGlyphs">MataHari</text><text x="475.4" y="272.8" class="y" font-size="6.5">♀</text><text x="480.9" y="272.8" class="w" font-size="7.2">➔</text><text x="489.7" y="272.8" textLength="7.3" lengthAdjust="spacingAndGlyphs">B6</text><text x="496.9" y="272.8" class="y" font-size="6.8">♂</text><text x="502.2" y="272.8" textLength="13.8" lengthAdjust="spacingAndGlyphs">(n=5)</text></g>
<text x="2.3" y="297.3" font-size="11.5" class="a" font-weight="bold">F</text>
<line x1="38.6" y1="307.0" x2="38.6" y2="398.3" stroke="#000" stroke-width="1.2"/>
<line x1="38.0" y1="397.7" x2="170.2" y2="397.7" stroke="#000" stroke-width="1.2"/>
<line x1="38.6" y1="307.5" x2="169.7" y2="307.5" stroke="#000" stroke-width="1.2"/>
<line x1="35.300000000000004" y1="307.5" x2="38.6" y2="307.5" stroke="#000" stroke-width="0.9"/>
<text x="26.1" y="309.5" font-size="6.2" class="s" textLength="8.4" lengthAdjust="spacingAndGlyphs">100</text>
<line x1="35.300000000000004" y1="330.05" x2="38.6" y2="330.05" stroke="#000" stroke-width="0.9"/>
<text x="28.9" y="332.1" font-size="6.2" class="s" textLength="5.6" lengthAdjust="spacingAndGlyphs">75</text>
<line x1="35.300000000000004" y1="352.6" x2="38.6" y2="352.6" stroke="#000" stroke-width="0.9"/>
<text x="28.9" y="354.6" font-size="6.2" class="s" textLength="5.6" lengthAdjust="spacingAndGlyphs">50</text>
<line x1="35.300000000000004" y1="375.15" x2="38.6" y2="375.15" stroke="#000" stroke-width="0.9"/>
<text x="28.9" y="377.2" font-size="6.2" class="s" textLength="5.6" lengthAdjust="spacingAndGlyphs">25</text>
<line x1="35.300000000000004" y1="397.7" x2="38.6" y2="397.7" stroke="#000" stroke-width="0.9"/>
<text x="31.7" y="399.7" font-size="6.2" class="s" textLength="2.8" lengthAdjust="spacingAndGlyphs">0</text>
<line x1="38.6" y1="397.7" x2="38.6" y2="400.3" stroke="#000" stroke-width="0.9"/>
<text x="37.2" y="407" font-size="6.2" class="s" textLength="2.8" lengthAdjust="spacingAndGlyphs">0</text>
<line x1="60.45" y1="397.7" x2="60.45" y2="400.3" stroke="#000" stroke-width="0.9"/>
<text x="59.1" y="407" font-size="6.2" class="s" textLength="2.8" lengthAdjust="spacingAndGlyphs">5</text>
<line x1="82.3" y1="397.7" x2="82.3" y2="400.3" stroke="#000" stroke-width="0.9"/>
<text x="79.5" y="407" font-size="6.2" class="s" textLength="5.6" lengthAdjust="spacingAndGlyphs">10</text>
<line x1="104.15" y1="397.7" x2="104.15" y2="400.3" stroke="#000" stroke-width="0.9"/>
<text x="101.4" y="407" font-size="6.2" class="s" textLength="5.6" lengthAdjust="spacingAndGlyphs">15</text>
<line x1="126.0" y1="397.7" x2="126.0" y2="400.3" stroke="#000" stroke-width="0.9"/>
<text x="123.2" y="407" font-size="6.2" class="s" textLength="5.6" lengthAdjust="spacingAndGlyphs">20</text>
<line x1="147.85" y1="397.7" x2="147.85" y2="400.3" stroke="#000" stroke-width="0.9"/>
<text x="145.1" y="407" font-size="6.2" class="s" textLength="5.6" lengthAdjust="spacingAndGlyphs">25</text>
<line x1="169.7" y1="397.7" x2="169.7" y2="400.3" stroke="#000" stroke-width="0.9"/>
<text x="166.9" y="407" font-size="6.2" class="s" textLength="5.6" lengthAdjust="spacingAndGlyphs">30</text>
<path d="M69.2,307.5V352.6H82.3V397.7" fill="none" stroke="#000" stroke-width="1.35" stroke-dasharray="2.3 1.5"/>
<path d="M69.2,352.6" fill="none" stroke="#000" stroke-width="0"/>
<circle cx="69.2" cy="352.6" r="2.1" fill="#000"/>
<circle cx="82.3" cy="397.7" r="2.1" fill="#000"/>
<text x="22.3" y="349.3" font-size="7" class="s" text-anchor="middle" transform="rotate(-90 22.3 349.3)" textLength="29" lengthAdjust="spacingAndGlyphs">% survival</text>
<text x="84.6" y="416.3" font-size="7.2" class="s" textLength="44.6" lengthAdjust="spacingAndGlyphs">Days after BMT</text>
<text x="85.2" y="391" font-size="6.4" class="s">***</text>
<text x="137.2" y="394.4" font-size="6.4" class="s" textLength="32.2" lengthAdjust="spacingAndGlyphs">*** p&lt;0.0001</text>
<g font-size="6.8" class="s"><text x="71" y="347.3" textLength="21.7" lengthAdjust="spacingAndGlyphs">Marilyn</text><text x="93.1" y="347.3" class="y" font-size="6.5">♀</text><text x="97.9" y="347.3" class="w" font-size="7.2">➔</text><text x="106.9" y="347.3" textLength="7.3" lengthAdjust="spacingAndGlyphs">B6</text><text x="114.4" y="347.3" class="y" font-size="6.8">♂</text><text x="122.6" y="347.3">T;1.5x10<tspan font-size="4.3" dy="-2.4">6</tspan></text><text x="150.7" y="347.3" textLength="15.9" lengthAdjust="spacingAndGlyphs">(n=6)</text></g>
<path d="M165.7,301L167.2,298L168.7,301Z" fill="#000" stroke="none" stroke-width="1"/>
<rect x="167.3" y="305.2" width="4.6" height="4.6" fill="#000"/>
<rect x="167.5" y="313.2" width="3.3" height="3.3" fill="#fff" stroke="#000" stroke-width="0.6"/>
<g font-size="6.9" class="s"><text x="171.8" y="302.5" textLength="7.6" lengthAdjust="spacingAndGlyphs">B6</text><text x="179.8" y="302.5" class="y" font-size="6.5">♀</text><text x="185" y="302.5" class="w" font-size="7.2">➔</text><text x="191.5" y="302.5" textLength="7.4" lengthAdjust="spacingAndGlyphs">B6</text><text x="201.9" y="302.5" class="y" font-size="6.5">♀</text><text x="208.8" y="302.5" textLength="14.9" lengthAdjust="spacingAndGlyphs">(n=4)</text></g>
<g font-size="6.9" class="s"><text x="173.8" y="309.4" textLength="7.8" lengthAdjust="spacingAndGlyphs">B6</text><text x="182" y="309.4" class="y" font-size="6.5">♀</text><text x="187.2" y="309.4" class="w" font-size="7.2">➔</text><text x="193.7" y="309.4" textLength="7.5" lengthAdjust="spacingAndGlyphs">B6</text><text x="203.1" y="309.4" class="y" font-size="6.8">♂</text><text x="211.4" y="309.4" textLength="14.3" lengthAdjust="spacingAndGlyphs">(n=4)</text></g>
<g font-size="6.9" class="s"><text x="172.5" y="316.3" textLength="23" lengthAdjust="spacingAndGlyphs">Marilyn</text><text x="195.7" y="316.3" class="y" font-size="6.5">♀</text><text x="200.9" y="316.3" class="w" font-size="7.2">➔</text><text x="207.2" y="316.3" textLength="7.3" lengthAdjust="spacingAndGlyphs">B6</text><text x="214.9" y="316.3" class="y" font-size="6.5">♀</text><text x="222.3" y="316.3" textLength="14.3" lengthAdjust="spacingAndGlyphs">(n=4)</text></g>
<text x="252" y="297.3" font-size="11.5" class="a" font-weight="bold">G</text>
<line x1="291" y1="307.1" x2="291" y2="398.20000000000005" stroke="#000" stroke-width="1.4"/>
<line x1="290.4" y1="397.6" x2="424.8" y2="397.6" stroke="#000" stroke-width="1.4"/>
<line x1="291" y1="307.6" x2="424.3" y2="307.6" stroke="#000" stroke-width="1.4"/>
<line x1="287.7" y1="307.6" x2="291" y2="307.6" stroke="#000" stroke-width="0.9"/>
<text x="278.5" y="309.6" font-size="6.2" class="s" textLength="8.4" lengthAdjust="spacingAndGlyphs">100</text>
<line x1="287.7" y1="330.1" x2="291" y2="330.1" stroke="#000" stroke-width="0.9"/>
<text x="281.3" y="332.1" font-size="6.2" class="s" textLength="5.6" lengthAdjust="spacingAndGlyphs">75</text>
<line x1="287.7" y1="352.6" x2="291" y2="352.6" stroke="#000" stroke-width="0.9"/>
<text x="281.3" y="354.6" font-size="6.2" class="s" textLength="5.6" lengthAdjust="spacingAndGlyphs">50</text>
<line x1="287.7" y1="375.1" x2="291" y2="375.1" stroke="#000" stroke-width="0.9"/>
<text x="281.3" y="377.1" font-size="6.2" class="s" textLength="5.6" lengthAdjust="spacingAndGlyphs">25</text>
<line x1="287.7" y1="397.6" x2="291" y2="397.6" stroke="#000" stroke-width="0.9"/>
<text x="284.1" y="399.6" font-size="6.2" class="s" textLength="2.8" lengthAdjust="spacingAndGlyphs">0</text>
<line x1="291.0" y1="397.6" x2="291.0" y2="400.20000000000005" stroke="#000" stroke-width="0.9"/>
<text x="289.6" y="407" font-size="6.2" class="s" textLength="2.8" lengthAdjust="spacingAndGlyphs">0</text>
<line x1="313.2166666666667" y1="397.6" x2="313.2166666666667" y2="400.20000000000005" stroke="#000" stroke-width="0.9"/>
<text x="311.8" y="407" font-size="6.2" class="s" textLength="2.8" lengthAdjust="spacingAndGlyphs">5</text>
<line x1="335.43333333333334" y1="397.6" x2="335.43333333333334" y2="400.20000000000005" stroke="#000" stroke-width="0.9"/>
<text x="332.6" y="407" font-size="6.2" class="s" textLength="5.6" lengthAdjust="spacingAndGlyphs">10</text>
<line x1="357.65" y1="397.6" x2="357.65" y2="400.20000000000005" stroke="#000" stroke-width="0.9"/>
<text x="354.9" y="407" font-size="6.2" class="s" textLength="5.6" lengthAdjust="spacingAndGlyphs">15</text>
<line x1="379.8666666666667" y1="397.6" x2="379.8666666666667" y2="400.20000000000005" stroke="#000" stroke-width="0.9"/>
<text x="377.1" y="407" font-size="6.2" class="s" textLength="5.6" lengthAdjust="spacingAndGlyphs">20</text>
<line x1="402.0833333333333" y1="397.6" x2="402.0833333333333" y2="400.20000000000005" stroke="#000" stroke-width="0.9"/>
<text x="399.3" y="407" font-size="6.2" class="s" textLength="5.6" lengthAdjust="spacingAndGlyphs">25</text>
<line x1="424.3" y1="397.6" x2="424.3" y2="400.20000000000005" stroke="#000" stroke-width="0.9"/>
<text x="421.5" y="407" font-size="6.2" class="s" textLength="5.6" lengthAdjust="spacingAndGlyphs">30</text>
<path d="M304.3,307.6H304.3V317.6H313.2V347.6H317.7V357.6H326.5V377.6H331.0V387.6H353.2V397.6" fill="none" stroke="#000" stroke-width="1.35" stroke-dasharray="2.3 1.5"/>
<circle cx="304.5" cy="317.6" r="2.1" fill="#000"/>
<circle cx="313.4" cy="347.6" r="2.1" fill="#000"/>
<circle cx="317.9" cy="357.6" r="2.1" fill="#000"/>
<circle cx="326.7" cy="377.6" r="2.1" fill="#000"/>
<circle cx="331.2" cy="387.6" r="2.1" fill="#000"/>
<circle cx="353.4" cy="397.6" r="2.1" fill="#000"/>
<text x="272.9" y="350" font-size="7" class="s" text-anchor="middle" transform="rotate(-90 272.9 350)" textLength="30" lengthAdjust="spacingAndGlyphs">% survival</text>
<text x="336.6" y="416.3" font-size="7.2" class="s" textLength="44.6" lengthAdjust="spacingAndGlyphs">Days after BMT</text>
<text x="340.8" y="384.4" font-size="5.9" class="s">***</text>
<text x="391.9" y="393.8" font-size="6.4" class="s" textLength="32.1" lengthAdjust="spacingAndGlyphs">*** p&lt;0.0001</text>
<g font-size="6.8" class="s"><text x="322.2" y="347.3" textLength="19.2" lengthAdjust="spacingAndGlyphs">Rachel</text><text x="342" y="347.3" class="y" font-size="6.5">♀</text><text x="346.8" y="347.3" class="w" font-size="7.2">➔</text><text x="355.4" y="347.3" textLength="7.3" lengthAdjust="spacingAndGlyphs">B6</text><text x="362.9" y="347.3" class="y" font-size="6.8">♂</text><text x="369.7" y="347.3">T;1.5x10<tspan font-size="4.3" dy="-2.4">6</tspan></text><text x="400.3" y="347.3" textLength="13.7" lengthAdjust="spacingAndGlyphs">(n=9)</text></g>
<path d="M420.2,302L421.7,299L423.2,302Z" fill="#000" stroke="none" stroke-width="1"/>
<rect x="421.1" y="305.3" width="4.7" height="4.7" fill="#000"/>
<rect x="421.1" y="314.6" width="3.3" height="3.3" fill="#fff" stroke="#000" stroke-width="0.6"/>
<g font-size="6.9" class="s"><text x="426.8" y="303.3" textLength="7.6" lengthAdjust="spacingAndGlyphs">B6</text><text x="434.8" y="303.3" class="y" font-size="6.5">♀</text><text x="440" y="303.3" class="w" font-size="7.2">➔</text><text x="446.7" y="303.3" textLength="7.2" lengthAdjust="spacingAndGlyphs">B6</text><text x="456.9" y="303.3" class="y" font-size="6.5">♀</text><text x="463.8" y="303.3" textLength="14.9" lengthAdjust="spacingAndGlyphs">(n=3)</text></g>
<g font-size="6.9" class="s"><text x="428.8" y="310.8" textLength="7.8" lengthAdjust="spacingAndGlyphs">B6</text><text x="437" y="310.8" class="y" font-size="6.5">♀</text><text x="442.2" y="310.8" class="w" font-size="7.2">➔</text><text x="449.1" y="310.8" textLength="7.4" lengthAdjust="spacingAndGlyphs">B6</text><text x="458.9" y="310.8" class="y" font-size="6.8">♂</text><text x="467.2" y="310.8" textLength="14.1" lengthAdjust="spacingAndGlyphs">(n=3)</text></g>
<g font-size="6.9" class="s"><text x="426.8" y="318.5" textLength="20.2" lengthAdjust="spacingAndGlyphs">Rachel</text><text x="447.4" y="318.5" class="y" font-size="6.5">♀</text><text x="452.6" y="318.5" class="w" font-size="7.2">➔</text><text x="458.8" y="318.5" textLength="7.6" lengthAdjust="spacingAndGlyphs">B6</text><text x="466.8" y="318.5" class="y" font-size="6.5">♀</text><text x="473.8" y="318.5" textLength="15.2" lengthAdjust="spacingAndGlyphs">(n=3)</text></g>
</svg>
</body></html>
